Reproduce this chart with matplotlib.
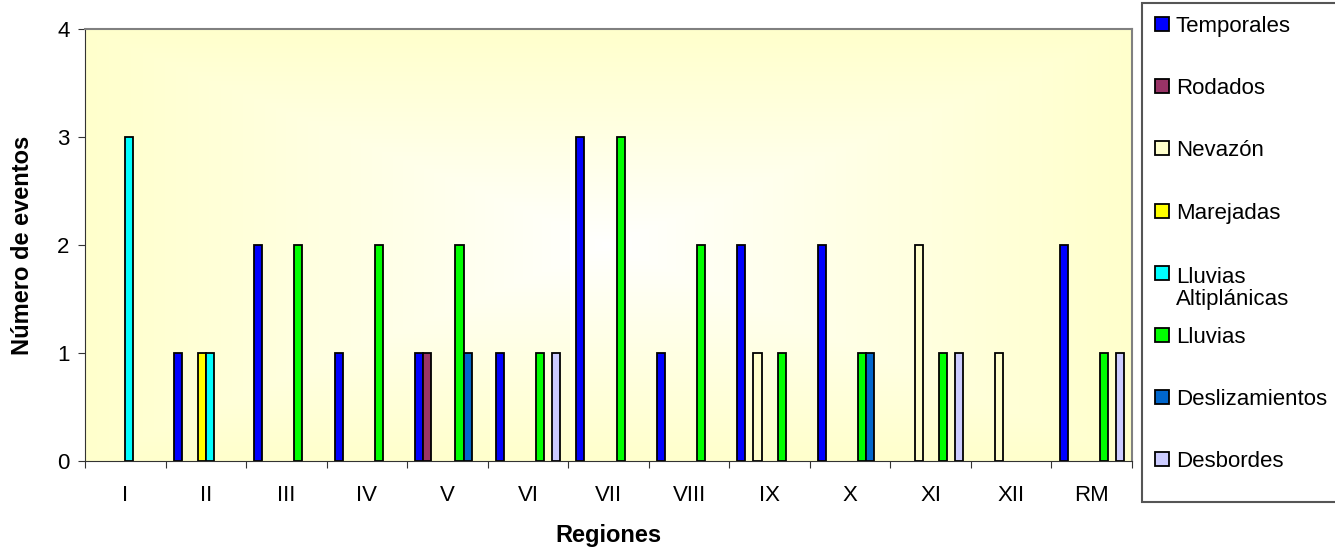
import numpy as np
import matplotlib
matplotlib.use("Agg")
import matplotlib.pyplot as plt
from matplotlib.patches import Rectangle

plt.rcParams['font.family'] = ['Liberation Sans', 'DejaVu Sans']

regiones = ['I', 'II', 'III', 'IV', 'V', 'VI', 'VII', 'VIII', 'IX', 'X', 'XI', 'XII', 'RM']
series = ['Temporales', 'Rodados', 'Nevazón', 'Marejadas', 'Lluvias\nAltiplánicas',
          'Lluvias', 'Deslizamientos', 'Desbordes']
temporales = [0, 1, 2, 1, 1, 1, 3, 1, 2, 2, 0, 0, 2]
rodados = [0, 0, 0, 0, 1, 0, 0, 0, 0, 0, 0, 0, 0]
nevazon = [0, 0, 0, 0, 0, 0, 0, 0, 1, 0, 2, 1, 0]
marejadas = [0, 1, 0, 0, 0, 0, 0, 0, 0, 0, 0, 0, 0]
lluvias_alt = [3, 1, 0, 0, 0, 0, 0, 0, 0, 0, 0, 0, 0]
lluvias = [0, 0, 2, 2, 2, 1, 3, 2, 1, 1, 1, 0, 1]
deslizamientos = [0, 0, 0, 0, 1, 0, 0, 0, 0, 1, 0, 0, 0]
desbordes = [0, 0, 0, 0, 0, 1, 0, 0, 0, 0, 1, 0, 1]
valores = [temporales, rodados, nevazon, marejadas, lluvias_alt, lluvias, deslizamientos, desbordes]
colores = ['#0000FF', '#993366', '#FFFFCC', '#FFFF00', '#00FFFF', '#00FF00', '#0066CC', '#CCCCFF']

W, H = 1335, 549
fig = plt.figure(figsize=(W / 100, H / 100), dpi=100)
ax = fig.add_axes([85 / W, 1 - 461 / H, (1132 - 85) / W, (461 - 29) / H])

# degradado de fondo: amarillo en los bordes, blanco al centro
gy, gx = np.mgrid[-1:1:300j, -1:1:600j]
r = np.clip(np.maximum(np.abs(gx), np.abs(gy)), 0, 1)
c0 = np.array([1.0, 1.0, 1.0])
c1 = np.array([1.0, 1.0, 0.80])
img = c0 + (c1 - c0) * r[..., None] ** 0.9
ax.imshow(img, extent=[-0.5, len(regiones) - 0.5, 0, 4], aspect='auto', zorder=0)

x = np.arange(len(regiones))
w = 0.1
for i, (vals, col) in enumerate(zip(valores, colores)):
    vals = np.array(vals)
    m = vals > 0
    ax.bar(x[m] - 0.35 + i * w, vals[m], width=w, color=col, edgecolor='black',
           linewidth=1.3, zorder=2)

ax.set_xlim(-0.5, len(regiones) - 0.5)
ax.set_ylim(0, 4)
ax.set_yticks([0, 1, 2, 3, 4])
ax.set_xticks(np.arange(len(regiones) + 1) - 0.5)
ax.set_xticklabels([])
ax.set_xticks(x, minor=True)
ax.set_xticklabels(regiones, minor=True)
ax.tick_params(axis='x', which='minor', length=0, pad=17, labelsize=16)
ax.tick_params(axis='x', which='major', length=5, direction='out', color='#333333')
ax.tick_params(axis='y', length=5, direction='out', pad=6, labelsize=16, color='#333333')
for s in ['top', 'right']:
    ax.spines[s].set_color('#808080')
    ax.spines[s].set_linewidth(1.5)
ax.spines['left'].set_color('#333333')
ax.spines['bottom'].set_color('#333333')

ax.set_ylabel('Número de eventos', fontsize=17, fontweight='bold', labelpad=17)
ax.set_xlabel('Regiones', fontsize=17, fontweight='bold', labelpad=13)

# leyenda dibujada a mano (entradas con el mismo espaciado)
fig.patches.append(Rectangle((1142 / W, 1 - 502 / H), 1.0, (502 - 3) / H,
                             transform=fig.transFigure, facecolor='white',
                             edgecolor='#555555', linewidth=1.5, zorder=1))
for i, (lab, col) in enumerate(zip(series, colores)):
    yc = 24 + i * 62.2
    fig.patches.append(Rectangle((1155 / W, 1 - (yc + 7) / H), 14 / W, 14 / H,
                                 transform=fig.transFigure, facecolor=col,
                                 edgecolor='black', linewidth=1.3, zorder=2))
    base = yc + 8 + lab.count('\n') * 24.5
    fig.text(1176 / W, 1 - base / H, lab, fontsize=16, va='baseline', ha='left',
             linespacing=1.1, zorder=3)

fig.savefig('out.png', dpi=100)
